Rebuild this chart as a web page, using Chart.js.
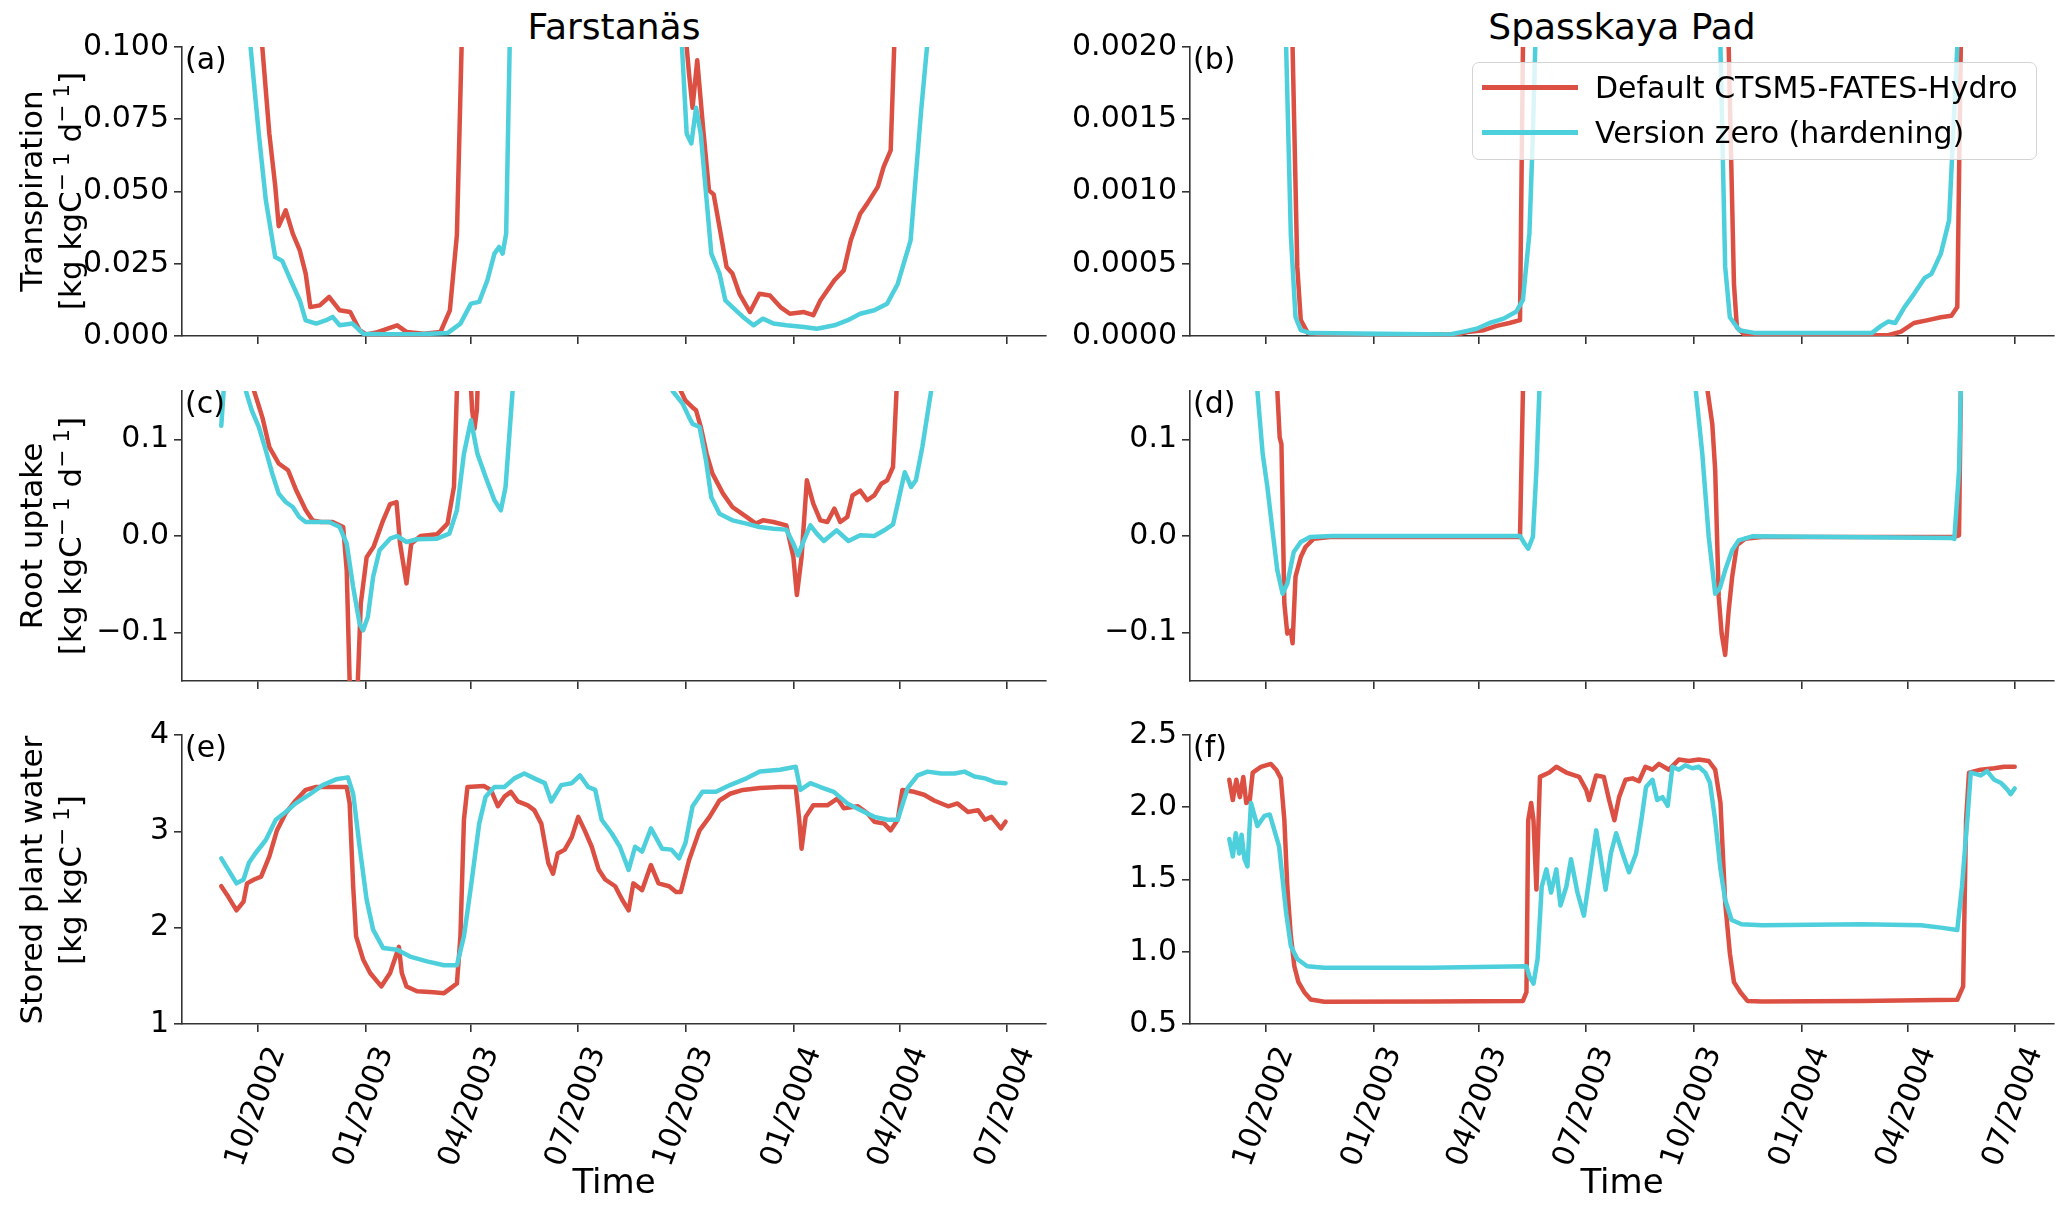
<!DOCTYPE html>
<html>
<head>
<meta charset="utf-8">
<title>Farstanäs / Spasskaya Pad</title>
<script src="https://cdn.jsdelivr.net/npm/chart.js@4.4.1/dist/chart.umd.min.js"></script>
<style>
    html, body { margin: 0; padding: 0; background: #fff; }
    #fig { position: relative; width: 2067px; height: 1205px; overflow: hidden; font-family: "DejaVu Sans", sans-serif; }
    #fig canvas { position: absolute; }
    .site-title { position: absolute; top: 6px; height: 42px; line-height: 42px; font-size: 36px; text-align: center; color: #000; }
    .y-title { position: absolute; width: 420px; font-size: 31px; line-height: 39px; text-align: center; color: #000;
               white-space: nowrap; transform: translate(-50%, -50%) rotate(-90deg); }
    .y-title sup { font-size: 70%; vertical-align: 0.55em; line-height: 0; }
    .legend { position: absolute; left: 1472px; top: 62px; width: 565px; height: 98px; box-sizing: border-box;
              border: 1.5px solid #d4d4d4; border-radius: 7px; background: rgba(255, 255, 255, 0.8); }
    .legend .row { position: absolute; left: 0; height: 40px; width: 100%; }
    .legend .swatch { position: absolute; left: 9px; top: 17px; width: 96px; height: 5px; }
    .legend .text { position: absolute; left: 122px; top: 0; line-height: 40px; font-size: 30px; color: #000; white-space: nowrap; }
</style>
</head>
<body>
<div id="fig">
    <div class="site-title" style="left:182px; width:864px;">Farstanäs</div>
    <div class="site-title" style="left:1190px; width:864px;">Spasskaya Pad</div>

    <canvas id="panelA" width="1060" height="326" style="left:0px; top:30px;"></canvas>
    <canvas id="panelB" width="1005" height="326" style="left:1062px; top:30px;"></canvas>
    <canvas id="panelC" width="1060" height="327" style="left:0px; top:374px;"></canvas>
    <canvas id="panelD" width="1005" height="327" style="left:1062px; top:374px;"></canvas>
    <canvas id="panelE" width="1060" height="487" style="left:0px; top:718px;"></canvas>
    <canvas id="panelF" width="1005" height="487" style="left:1062px; top:718px;"></canvas>

    <div class="y-title" style="left:51px; top:191px;">Transpiration<br>[kg kgC<sup>&#8722; 1</sup> d<sup>&#8722; 1</sup>]</div>
    <div class="y-title" style="left:51px; top:536px;">Root uptake<br>[kg kgC<sup>&#8722; 1</sup> d<sup>&#8722; 1</sup>]</div>
    <div class="y-title" style="left:51px; top:880px;">Stored plant water<br>[kg kgC<sup>&#8722; 1</sup>]</div>

    <div class="legend">
        <div class="row" style="top:5px;"><span class="swatch" style="background:#dc5044;"></span><span class="text">Default CTSM5-FATES-Hydro</span></div>
        <div class="row" style="top:50px;"><span class="swatch" style="background:#4ecfdc;"></span><span class="text">Version zero (hardening)</span></div>
    </div>
</div>

<script>
// ============================================================================
// DATA  (x = day counted from 1 Jan 2002, y = model output)
// values beyond the axis limits only make the curve leave the panel
// ============================================================================

const dateTickDays = [273, 365, 455, 546, 638, 730, 821, 912];
const dateTickLabels = ['10/2002', '01/2003', '04/2003', '07/2003', '10/2003', '01/2004', '04/2004', '07/2004'];

// --- Transpiration ---------------------------------------------------------
const farTranspTicks = [0, 0.025, 0.05, 0.075, 0.1];
const farTranspLabels = ['0.000', '0.025', '0.050', '0.075', '0.100'];
const spaTranspTicks = [0, 0.0005, 0.001, 0.0015, 0.002];
const spaTranspLabels = ['0.0000', '0.0005', '0.0010', '0.0015', '0.0020'];

const farTranspDefault = [
    [242, 0.30], [272, 0.16], [277, 0.100], [283, 0.070], [288, 0.052], [291, 0.038], [297, 0.0435],
    [303, 0.0354], [309, 0.0296], [314, 0.0216], [318, 0.010], [326, 0.0106], [334, 0.0135], [343, 0.0089],
    [352, 0.0083], [360, 0.002], [366, 0.0005], [374, 0.0012], [392, 0.0037], [400, 0.0014], [415, 0.0008],
    [429, 0.0014], [437, 0.0089], [443, 0.035], [447, 0.100], [452, 0.30], [634, 0.30], [639, 0.100],
    [641, 0.0908], [644, 0.079], [648, 0.0954], [653, 0.072], [658, 0.0504], [662, 0.049], [667, 0.0377],
    [673, 0.0239], [678, 0.0216], [684, 0.0146], [693, 0.0083], [701, 0.0146], [710, 0.014], [719, 0.010],
    [727, 0.0077], [739, 0.0083], [747, 0.0072], [753, 0.0123], [765, 0.0193], [773, 0.0227], [779, 0.0331],
    [787, 0.0423], [793, 0.0458], [802, 0.0516], [807, 0.0585], [813, 0.0642], [816, 0.100], [820, 0.30],
    [912, 0.30]
];
const farTranspHardening = [
    [242, 0.30], [262, 0.16], [267, 0.100], [274, 0.070], [280, 0.047], [288, 0.0273], [294, 0.026],
    [300, 0.0204], [309, 0.0123], [314, 0.0054], [323, 0.0043], [331, 0.0054], [337, 0.0066], [343, 0.0037],
    [354, 0.0043], [363, 0.0008], [380, 0.0006], [409, 0.0006], [435, 0.001], [446, 0.0043], [455, 0.0112],
    [462, 0.0118], [469, 0.0193], [475, 0.0285], [479, 0.0308], [482, 0.0285], [485, 0.0354], [488, 0.100],
    [492, 0.30], [631, 0.30], [635, 0.100], [639, 0.070], [643, 0.0666], [647, 0.079], [651, 0.070],
    [656, 0.047], [660, 0.0285], [667, 0.0216], [672, 0.0123], [678, 0.010], [687, 0.0066], [696, 0.0037],
    [704, 0.006], [713, 0.0043], [724, 0.0037], [739, 0.0031], [750, 0.0025], [765, 0.0037], [776, 0.0054],
    [787, 0.0077], [799, 0.0089], [810, 0.0112], [819, 0.018], [830, 0.0331], [839, 0.078], [844, 0.100],
    [848, 0.30], [912, 0.30]
];
const spaTranspDefault = [
    [242, 0.004], [292, 0.003], [296, 0.0020], [300, 0.00048], [303, 0.00011], [309, 0.00002], [328, 0.00001],
    [436, 0.00001], [447, 0.00003], [459, 0.00004], [470, 0.00007], [481, 0.00009], [490, 0.00011],
    [492.5, 0.0020], [495, 0.004], [665, 0.004], [668, 0.0020], [672.5, 0.00036], [675, 0.00006],
    [682, 0.000005], [804, 0.000005], [815, 0.00003], [826, 0.00009], [838, 0.00011], [849, 0.00013],
    [858, 0.00014], [863, 0.0002], [866, 0.0020], [869, 0.004], [912, 0.004]
];
const spaTranspHardening = [
    [242, 0.004], [287, 0.003], [290.5, 0.0020], [294.5, 0.0007], [298.5, 0.00013], [303, 0.00004],
    [311, 0.00002], [430, 0.00001], [442, 0.00003], [453, 0.00005], [464, 0.00009], [476, 0.00012],
    [487, 0.00017], [492.5, 0.00025], [498, 0.00071], [501, 0.0014], [503, 0.0020], [506, 0.004],
    [658, 0.004], [661, 0.0020], [665, 0.00048], [669, 0.00013], [677, 0.00004], [691, 0.00002],
    [790, 0.00002], [798, 0.00007], [804, 0.0001], [810, 0.00009], [818, 0.0002], [826, 0.00029],
    [835, 0.0004], [841, 0.00043], [849, 0.00057], [856, 0.0008], [859.5, 0.0014], [863, 0.0020],
    [866, 0.004], [912, 0.004]
];

// --- Root uptake -------------------------------------------------------------
const rootTicks = [-0.1, 0, 0.1];
const rootLabels = ['\u22120.1', '0.0', '0.1'];

const farRootDefault = [
    [242, 0.30], [266, 0.20], [270, 0.15], [277, 0.123], [283, 0.092], [291, 0.075], [299, 0.068],
    [306, 0.047], [314, 0.027], [320, 0.016], [327, 0.0145], [337, 0.0145], [346, 0.0093], [349, -0.0355],
    [351.5, -0.15], [354.5, -0.175], [358.5, -0.15], [361, -0.07], [366, -0.022], [372, -0.011], [380, 0.016],
    [386, 0.033], [391.5, 0.035], [394.5, -0.008], [400, -0.049], [404, -0.008], [412, 0.0], [426, 0.0017],
    [435, 0.0128], [440.5, 0.051], [443, 0.15], [447, 0.30], [453, 0.20], [456, 0.13], [458, 0.111],
    [460, 0.13], [462, 0.20], [466, 0.30], [628, 0.30], [634, 0.15], [638, 0.14], [644, 0.133], [647, 0.13],
    [651, 0.113], [656, 0.085], [661, 0.0645], [670, 0.0438], [678, 0.030], [690, 0.0197], [698, 0.0128],
    [704, 0.0162], [713, 0.0145], [724, 0.011], [730, -0.0217], [733, -0.061], [737, -0.0217], [741.5, 0.0576],
    [747, 0.0334], [753, 0.0162], [759, 0.0145], [765, 0.0283], [770, 0.0145], [776, 0.0197], [780.5, 0.042],
    [787, 0.047], [793, 0.037], [799, 0.042], [805, 0.054], [810, 0.0576], [815, 0.0714], [818, 0.15],
    [822, 0.30], [912, 0.30]
];
const farRootHardening = [
    [242, 0.114], [244, 0.15], [250, 0.22], [258, 0.22], [263, 0.15], [268, 0.13], [274, 0.1128],
    [280, 0.0886], [285.5, 0.0645], [291, 0.0438], [297, 0.0352], [303, 0.030], [308.5, 0.0197],
    [314, 0.0145], [323, 0.0145], [334, 0.0145], [343, 0.0093], [349, -0.0079], [354.5, -0.0528],
    [360, -0.0907], [363, -0.0976], [367, -0.0838], [371.5, -0.0424], [377, -0.0148], [386, -0.0028],
    [392, 0.0], [400, -0.0062], [409, -0.0034], [426, -0.0028], [436.5, 0.0024], [443, 0.0266], [449, 0.085],
    [455, 0.1197], [460.5, 0.085], [467.5, 0.061], [475, 0.0369], [480.5, 0.0266], [484.5, 0.0507],
    [488, 0.109], [490.5, 0.15], [494, 0.30], [623, 0.30], [627, 0.15], [635.5, 0.137], [641, 0.123],
    [644, 0.116], [650, 0.1128], [655.5, 0.078], [660, 0.040], [667, 0.023], [678, 0.0162], [690, 0.0128],
    [701, 0.0093], [713, 0.0076], [724, 0.0066], [730, -0.0079], [734, -0.020], [739, -0.0045],
    [744.5, 0.011], [750, 0.0024], [756, -0.0052], [767, 0.0059], [777, -0.0052], [787, 0.0007], [799, 0.0],
    [807.5, 0.0059], [815, 0.012], [819, 0.0334], [825, 0.066], [830.5, 0.0507], [834.5, 0.0576],
    [840, 0.092], [847.5, 0.15], [852, 0.30], [912, 0.30]
];
const spaRootDefault = [
    [242, 0.30], [280, 0.20], [283, 0.15], [285, 0.102], [286.5, 0.095], [289, -0.07], [291.5, -0.101],
    [294.5, -0.098], [296, -0.111], [298.5, -0.042], [303, -0.0217], [307, -0.0114], [314, -0.0028],
    [328, -0.001], [490, -0.001], [492.5, 0.15], [495, 0.30], [647, 0.30], [650, 0.15], [654, 0.116],
    [656.5, 0.068], [659.5, -0.063], [662, -0.101], [665, -0.123], [668, -0.077], [671, -0.042],
    [675, -0.0097], [682, -0.0028], [696, -0.001], [860.5, -0.001], [864.5, 0.0007], [866, 0.15],
    [868, 0.30], [912, 0.30]
];
const spaRootHardening = [
    [242, 0.30], [262, 0.20], [266, 0.15], [270.5, 0.085], [274.5, 0.0507], [278.5, 0.0093], [283, -0.0355],
    [287.5, -0.0597], [291.5, -0.0493], [297, -0.0166], [303, -0.0062], [311, -0.001], [330, 0.0],
    [490, 0.0], [494, -0.008], [497, -0.013], [501, -0.001], [504, 0.068], [506.5, 0.15], [509, 0.30],
    [636, 0.30], [640, 0.15], [645.5, 0.085], [651, -0.001], [656.5, -0.0597], [660.5, -0.054],
    [665, -0.0355], [671, -0.0148], [676.5, -0.0045], [688, -0.0003], [857.5, -0.002], [860.5, -0.003],
    [864.5, 0.068], [866, 0.15], [868, 0.30], [912, 0.30]
];

// --- Stored plant water ------------------------------------------------------
const farStoredTicks = [1, 2, 3, 4];
const farStoredLabels = ['1', '2', '3', '4'];
const spaStoredTicks = [0.5, 1, 1.5, 2, 2.5];
const spaStoredLabels = ['0.5', '1.0', '1.5', '2.0', '2.5'];

const farStoredDefault = [
    [242, 2.43], [248, 2.32], [255, 2.18], [261, 2.27], [264, 2.46], [270, 2.50], [276, 2.53], [283, 2.74],
    [289.5, 3.01], [297, 3.19], [305.5, 3.32], [314, 3.43], [323, 3.46], [334, 3.46], [349, 3.46],
    [351.5, 3.29], [354.5, 2.43], [357, 1.91], [363, 1.67], [369, 1.53], [378.5, 1.39], [386, 1.53],
    [393.5, 1.80], [396, 1.53], [400, 1.39], [409, 1.34], [423, 1.33], [432, 1.32], [437.5, 1.37],
    [443, 1.42], [446, 1.91], [449, 3.12], [452, 3.46], [466, 3.47], [472, 3.43], [478, 3.26], [483.5, 3.36],
    [489, 3.41], [495, 3.31], [503.5, 3.27], [509, 3.22], [515, 3.08], [521, 2.67], [525, 2.56], [529, 2.77],
    [535, 2.81], [541, 2.94], [546.5, 3.15], [552, 3.01], [558, 2.84], [564, 2.60], [569.5, 2.50],
    [578, 2.43], [584, 2.29], [589.5, 2.18], [593.5, 2.46], [601, 2.39], [608.5, 2.65], [615, 2.46],
    [624, 2.43], [630, 2.37], [634, 2.37], [641, 2.70], [650, 3.01], [658.5, 3.15], [667, 3.32], [676, 3.39],
    [687, 3.43], [701.5, 3.45], [718.5, 3.46], [732, 3.46], [735, 3.12], [737, 2.82], [740.5, 3.15],
    [747, 3.27], [759, 3.27], [767.5, 3.34], [773, 3.24], [785, 3.26], [793, 3.19], [799, 3.10],
    [807.5, 3.08], [813, 3.01], [819, 3.12], [823, 3.43], [833, 3.41], [841.5, 3.38], [850, 3.32],
    [862, 3.26], [870, 3.29], [879, 3.20], [887.5, 3.22], [893.5, 3.12], [899, 3.15], [907, 3.03],
    [911, 3.10]
];
const farStoredHardening = [
    [242, 2.72], [248, 2.60], [255, 2.46], [261, 2.50], [265.5, 2.67], [271, 2.77], [280, 2.91],
    [288.5, 3.12], [297, 3.20], [305.5, 3.29], [317, 3.38], [328.5, 3.48], [340, 3.54], [350, 3.56],
    [354.5, 3.39], [360, 2.84], [366, 2.29], [371.5, 1.98], [380, 1.79], [392, 1.77], [403, 1.70],
    [417.5, 1.65], [432, 1.61], [443, 1.61], [449, 1.91], [455, 2.43], [462, 3.08], [467.5, 3.36],
    [475, 3.46], [483.5, 3.46], [492, 3.55], [500.5, 3.60], [509, 3.55], [518, 3.50], [523.5, 3.31],
    [532, 3.48], [541, 3.50], [548, 3.58], [555, 3.46], [561, 3.43], [566.5, 3.12], [575, 2.98], [582, 2.84],
    [589.5, 2.60], [595, 2.84], [601, 2.79], [608.5, 3.03], [618, 2.82], [626, 2.81], [632.5, 2.72],
    [638, 2.88], [644, 3.26], [652.5, 3.41], [664, 3.41], [676, 3.48], [690, 3.55], [701.5, 3.62],
    [718.5, 3.64], [732, 3.67], [736, 3.43], [744.5, 3.50], [753, 3.46], [764.5, 3.41], [776, 3.29],
    [787.5, 3.22], [799, 3.15], [810.5, 3.12], [819, 3.12], [827.5, 3.45], [836, 3.58], [844.5, 3.62],
    [856, 3.60], [867.5, 3.60], [876, 3.62], [884.5, 3.57], [893.5, 3.55], [902, 3.51], [911, 3.50]
];
const spaStoredDefault = [
    [242, 2.19], [245, 2.05], [248, 2.19], [251, 2.07], [254, 2.21], [256.5, 2.03], [259.5, 2.05],
    [262, 2.24], [269, 2.28], [277.5, 2.30], [282, 2.26], [286, 2.20], [289, 1.91], [291.5, 1.45],
    [294.5, 1.11], [297.5, 0.90], [301, 0.79], [306, 0.72], [311.5, 0.67], [323, 0.654], [413, 0.656],
    [492.5, 0.66], [495.5, 0.72], [497, 1.91], [499.5, 2.03], [501.5, 1.91], [504, 1.43], [507, 2.21],
    [515, 2.24], [521, 2.28], [529.5, 2.24], [540.5, 2.21], [546.5, 2.12], [549, 2.05], [555, 2.22],
    [561.5, 2.21], [566, 2.05], [570.5, 1.91], [574.5, 2.07], [580, 2.19], [586, 2.20], [591.5, 2.18],
    [597, 2.28], [603, 2.26], [608.5, 2.30], [617, 2.26], [625.5, 2.33], [634, 2.32], [642.5, 2.33],
    [651, 2.32], [656.5, 2.26], [661, 2.03], [665, 1.34], [669, 0.99], [672.5, 0.79], [678, 0.72],
    [684, 0.66], [696.5, 0.656], [781, 0.66], [863, 0.668], [868, 0.76], [870.5, 1.91], [873, 2.24],
    [883, 2.26], [894.5, 2.27], [903, 2.28], [912, 2.28]
];
const spaStoredHardening = [
    [242, 1.78], [245, 1.66], [247.5, 1.82], [250.5, 1.68], [252.5, 1.81], [255, 1.64], [257.5, 1.59],
    [260.5, 2.03], [266, 1.87], [272, 1.94], [276.5, 1.95], [280.5, 1.84], [284.5, 1.73], [287.5, 1.50],
    [290.5, 1.27], [294.5, 1.04], [300, 0.95], [308.5, 0.90], [323, 0.89], [413, 0.89], [495.5, 0.90],
    [498, 0.83], [501.5, 0.78], [505, 0.95], [508.5, 1.45], [512.5, 1.57], [516.5, 1.41], [521, 1.57],
    [524.5, 1.32], [529.5, 1.45], [533.5, 1.64], [539, 1.41], [544.5, 1.25], [549, 1.50], [555, 1.84],
    [559, 1.64], [563, 1.43], [567.5, 1.68], [572, 1.82], [577.5, 1.68], [583, 1.55], [589, 1.68],
    [593.5, 1.91], [597.5, 2.14], [603, 2.19], [607, 2.05], [611.5, 2.07], [616, 2.01], [620, 2.28],
    [625.5, 2.26], [631, 2.29], [637, 2.27], [642.5, 2.28], [648, 2.24], [652, 2.17], [656.5, 1.91],
    [661, 1.57], [665, 1.36], [670.5, 1.22], [679, 1.19], [696.5, 1.183], [781, 1.19], [832, 1.183],
    [849, 1.167], [863, 1.15], [867, 1.45], [872, 1.96], [874.5, 2.24], [883, 2.22], [888.5, 2.25],
    [894.5, 2.19], [900, 2.17], [906, 2.12], [908.5, 2.09], [912, 2.13]
];

// ============================================================================
// STYLE
// ============================================================================

Chart.defaults.font.family = '"DejaVu Sans", sans-serif';
Chart.defaults.font.size = 30;
Chart.defaults.color = '#000';

const RED = '#dc5044';
const CYAN = '#4ecfdc';
const AXIS_COLOR = '#333333';
const X_MIN = 208.5;
const X_MAX = 945.5;

/**
 * Draws the "(a)", "(b)" ... tag in the top-left corner of the plot area
 */
const panelTagPlugin = {
    id: 'panelTag',
    afterDraw(chart, args, opts) {
        const { ctx, chartArea } = chart;
        ctx.save();
        ctx.font = '30px "DejaVu Sans", sans-serif';
        ctx.fillStyle = '#000';
        ctx.textBaseline = 'alphabetic';
        ctx.fillText(opts.text, chartArea.left + 3, chartArea.top + 22);
        ctx.restore();
    }
};

function toPoints(pairs) {
    return pairs.map(([x, y]) => ({ x, y }));
}

function axisLines() {
    return {
        grid: { display: true, drawOnChartArea: false, drawTicks: true, tickLength: 8, color: AXIS_COLOR, lineWidth: 1.6 },
        border: { display: true, color: AXIS_COLOR, width: 1.6 }
    };
}

/**
 * Render one panel of the 3x2 figure
 * @param {Object} cfg - panel settings
 */
function renderPanel(cfg) {
    const ctx = document.getElementById(cfg.id).getContext('2d');

    const lineStyle = {
        borderWidth: 4.5,
        pointRadius: 0,
        tension: 0,
        fill: false,
        borderJoinStyle: 'round',
        borderCapStyle: 'round'
    };

    return new Chart(ctx, {
        type: 'line',
        data: {
            datasets: [
                { label: 'Version zero (hardening)', data: toPoints(cfg.hardening), borderColor: CYAN, order: 1, ...lineStyle },
                { label: 'Default CTSM5-FATES-Hydro', data: toPoints(cfg.standard), borderColor: RED, order: 2, ...lineStyle }
            ]
        },
        options: {
            responsive: false,
            animation: false,
            events: [],
            layout: { padding: { top: 17, right: cfg.padRight, left: 0, bottom: 0 } },
            plugins: {
                legend: { display: false },
                tooltip: { enabled: false },
                panelTag: { text: cfg.tag }
            },
            scales: {
                x: {
                    type: 'linear',
                    min: X_MIN,
                    max: X_MAX,
                    bounds: 'data',
                    afterBuildTicks: s => { s.ticks = dateTickDays.map(v => ({ value: v })); },
                    afterFit: s => {
                        s.height = cfg.xAxisHeight;
                        s.paddingLeft = 0; s.paddingRight = 0; s.paddingTop = 0; s.paddingBottom = 0;
                    },
                    ...axisLines(),
                    ticks: {
                        display: cfg.showDates,
                        autoSkip: false,
                        minRotation: 70,
                        maxRotation: 70,
                        padding: 10,
                        labelOffset: 20,
                        callback: (v, i) => dateTickLabels[i]
                    },
                    title: {
                        display: cfg.showDates,
                        text: 'Time',
                        font: { size: 34 },
                        padding: { top: 0, bottom: 0 }
                    }
                },
                y: {
                    type: 'linear',
                    min: cfg.yMin,
                    max: cfg.yMax,
                    bounds: 'data',
                    afterBuildTicks: s => { s.ticks = cfg.yTicks.map(v => ({ value: v })); },
                    afterFit: s => {
                        s.width = cfg.yAxisWidth;
                        s.paddingTop = 0; s.paddingBottom = 0;
                    },
                    ...axisLines(),
                    ticks: {
                        autoSkip: false,
                        padding: 5,
                        callback: (v, i) => cfg.yLabels[i]
                    }
                }
            }
        },
        plugins: [panelTagPlugin]
    });
}

// ============================================================================
// PANELS
// ============================================================================

const LEFT = { yAxisWidth: 182, padRight: 14 };
const RIGHT = { yAxisWidth: 128, padRight: 13 };

renderPanel({ id: 'panelA', tag: '(a)', ...LEFT, xAxisHeight: 20, showDates: false,
    yMin: 0, yMax: 0.1, yTicks: farTranspTicks, yLabels: farTranspLabels,
    standard: farTranspDefault, hardening: farTranspHardening });

renderPanel({ id: 'panelB', tag: '(b)', ...RIGHT, xAxisHeight: 20, showDates: false,
    yMin: 0, yMax: 0.002, yTicks: spaTranspTicks, yLabels: spaTranspLabels,
    standard: spaTranspDefault, hardening: spaTranspHardening });

renderPanel({ id: 'panelC', tag: '(c)', ...LEFT, xAxisHeight: 20, showDates: false,
    yMin: -0.15, yMax: 0.15, yTicks: rootTicks, yLabels: rootLabels,
    standard: farRootDefault, hardening: farRootHardening });

renderPanel({ id: 'panelD', tag: '(d)', ...RIGHT, xAxisHeight: 20, showDates: false,
    yMin: -0.15, yMax: 0.15, yTicks: rootTicks, yLabels: rootLabels,
    standard: spaRootDefault, hardening: spaRootHardening });

renderPanel({ id: 'panelE', tag: '(e)', ...LEFT, xAxisHeight: 181, showDates: true,
    yMin: 1, yMax: 4, yTicks: farStoredTicks, yLabels: farStoredLabels,
    standard: farStoredDefault, hardening: farStoredHardening });

renderPanel({ id: 'panelF', tag: '(f)', ...RIGHT, xAxisHeight: 181, showDates: true,
    yMin: 0.5, yMax: 2.5, yTicks: spaStoredTicks, yLabels: spaStoredLabels,
    standard: spaStoredDefault, hardening: spaStoredHardening });
</script>
</body>
</html>
